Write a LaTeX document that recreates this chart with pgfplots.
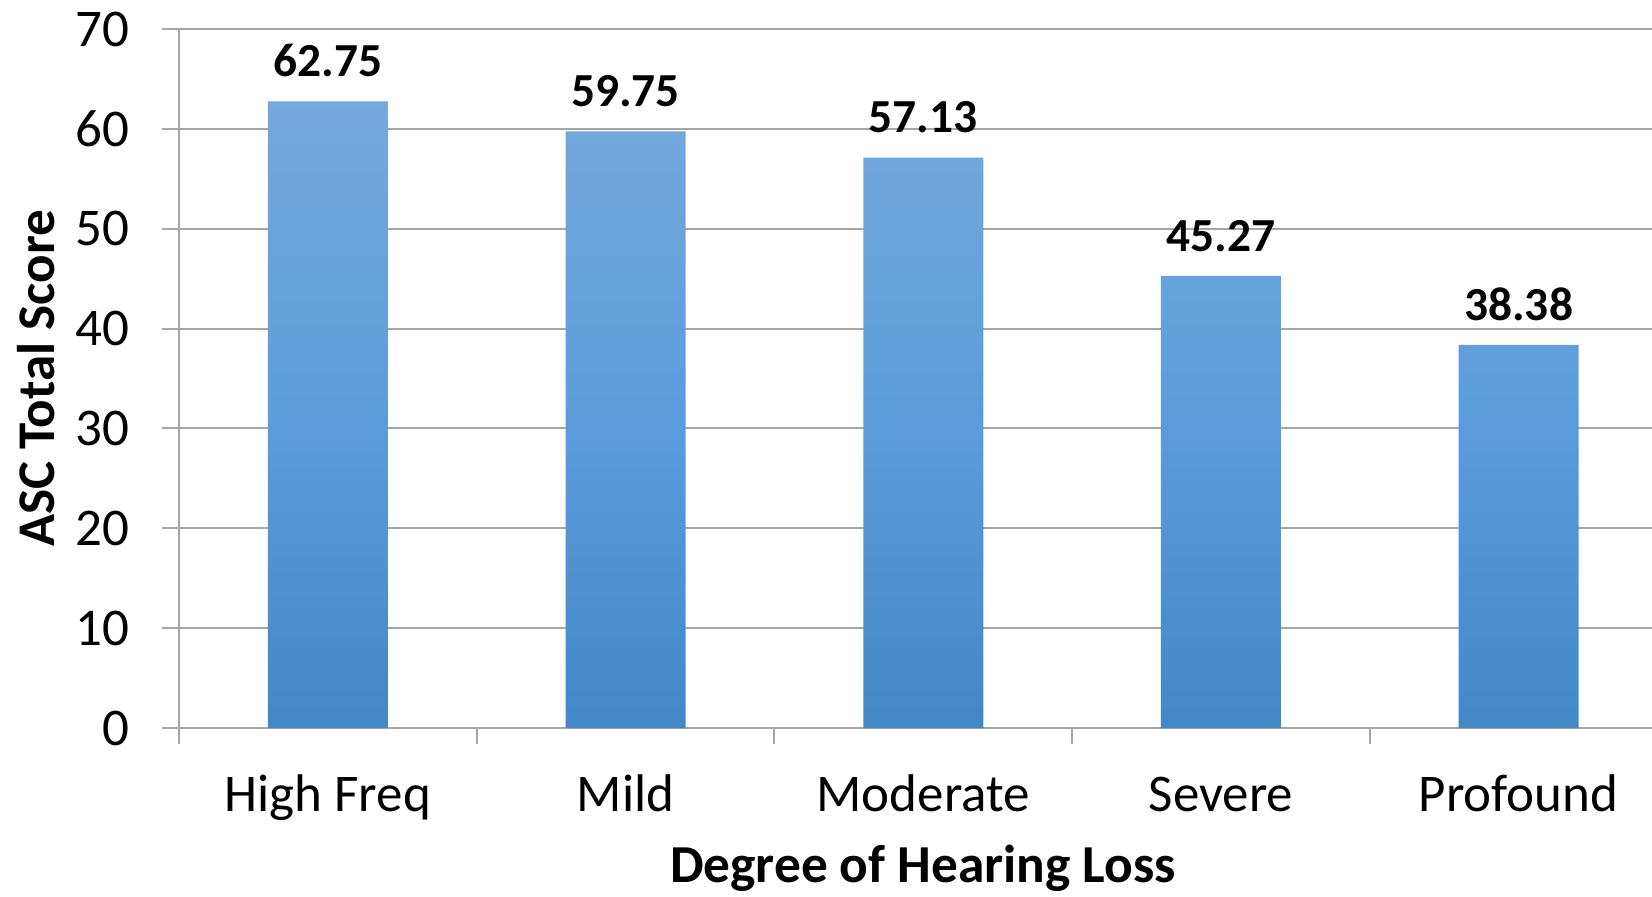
\documentclass[border=0pt]{standalone}
\usepackage{pgfplots}
\pgfplotsset{compat=1.18}
\usepackage{fontspec}
\setmainfont{Carlito}
\definecolor{bartop}{RGB}{117,168,219}
\definecolor{barmid}{RGB}{91,157,220}
\definecolor{barbot}{RGB}{66,136,198}
\definecolor{gridgray}{RGB}{166,166,166}
\begin{document}
\begin{tikzpicture}
\begin{axis}[
  at={(89.5pt,84pt)}, anchor=south west,
  scale only axis, width=736.5pt, height=349.5pt,
  xmin=-0.5, xmax=4.448, ymin=0, ymax=70,
  ybar, bar width=60pt,
  ytick={0,10,...,70},
  xtick={0,1,2,3,4},
  xticklabels={High Freq,Mild,Moderate,Severe,Profound},
  minor xtick={-0.5,0.5,1.5,2.5,3.5},
  axis x line*=bottom, axis y line*=left,
  axis line style={gridgray, line width=1pt},
  ymajorgrids, major grid style={gridgray, line width=1pt},
  tick align=outside,
  tick style={gridgray, line width=1pt},
  major tick length=8.5pt, minor tick length=8pt,
  major x tick style={draw=none},
  /pgf/number format/assume math mode=true,
  /pgf/number format/fixed, /pgf/number format/precision=2,
  ticklabel style={font=\fontsize{26.5}{30}\selectfont, text=black},
  yticklabel style={inner sep=0pt, xshift=-16pt},
  xticklabel style={inner sep=0pt, anchor=base, yshift=-33pt},
  every axis y label/.style={at={(axis description cs:-0.0971,0.5)}, rotate=90, anchor=center, font=\fontsize{26.5}{30}\selectfont\bfseries},
  every axis x label/.style={at={(axis description cs:0.5051,-0.2203)}, anchor=base, font=\fontsize{26.7}{30}\selectfont\bfseries},
  ylabel={ASC Total Score},
  xlabel={Degree of Hearing Loss},
  nodes near coords,
  every node near coord/.append style={font=\fontsize{23.7}{28}\selectfont\bfseries, text=black, inner sep=0pt, anchor=south, yshift=12pt},
]
\addplot[draw=none, top color=bartop, bottom color=barbot, middle color=barmid]
  coordinates {(0,62.75) (1,59.75) (2,57.13) (3,45.27) (4,38.38)};
\end{axis}
\pgfresetboundingbox
\path[use as bounding box] (0,0) rectangle (826pt,448pt);
\end{tikzpicture}
\end{document}
